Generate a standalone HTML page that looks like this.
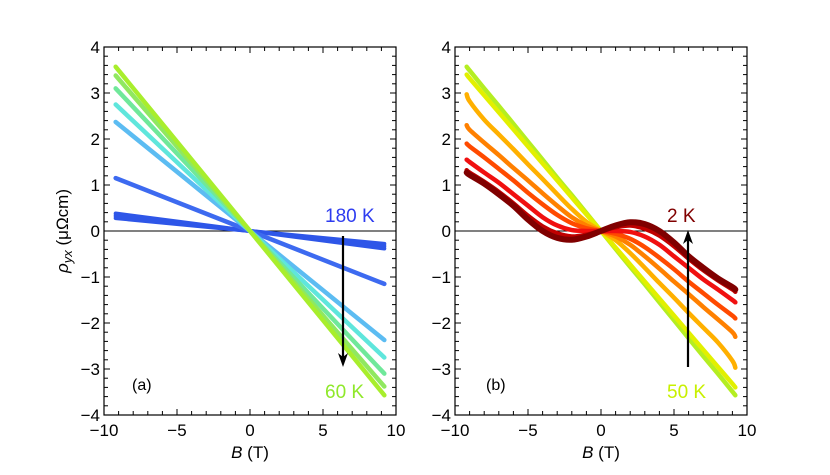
<!DOCTYPE html>
<html><head><meta charset="utf-8"><style>
body{margin:0;background:#fff;}
svg{display:block;font-family:"Liberation Sans",sans-serif;}
</style></head><body>
<svg id="chart" width="830" height="475"></svg>
<script>
// Panel (a): linear curves, value of rho_yx at B = +9.2 T (odd in B)
const aLabels = ["180K-1","180K-2","180K-3","T4","T5","T6","T7","T8","60K"];
const aEndValues = [-0.28,-0.33,-0.38,-1.15,-2.37,-2.75,-3.1,-3.38,-3.57];
const aColors = ["#2e56e8","#2e56e8","#2e56e8","#3d6af0","#5cbcf2","#5fe6dc","#70e89a","#90e860","#a8ee2c"];
// Panel (b): positive-field values (odd symmetric)
const bField = [0,1,2,3,4,5,6,7,8,9,9.2];
const b50K = [0,-0.39,-0.78,-1.16,-1.55,-1.94,-2.33,-2.72,-3.1,-3.49,-3.57];
const b45K = [0,-0.36,-0.73,-1.1,-1.47,-1.84,-2.21,-2.58,-2.95,-3.32,-3.4];
const b30K = [0,-0.2,-0.48,-0.8,-1.13,-1.45,-1.78,-2.1,-2.42,-2.82,-2.97];
const b20K = [0,-0.12,-0.3,-0.55,-0.82,-1.1,-1.37,-1.65,-1.92,-2.2,-2.3];
const b15K = [0,-0.06,-0.17,-0.35,-0.58,-0.83,-1.1,-1.35,-1.6,-1.84,-1.9];
const b10K = [0,0.0,-0.02,-0.12,-0.3,-0.55,-0.8,-1.05,-1.27,-1.5,-1.55];
const b5K = [0,0.08,0.12,0.05,-0.1,-0.33,-0.6,-0.85,-1.07,-1.27,-1.32];
const b2K = [0,0.12,0.19,0.15,0.0,-0.25,-0.55,-0.8,-1.03,-1.22,-1.27];
const bSeries = [b50K,b45K,b30K,b20K,b15K,b10K,b5K,b2K];
const bColors = ["#b4ee22","#e2f000","#ffb000","#ff8000","#ff4a00","#f01010","#c00000","#800000"];
const bNames = ["50K","45K","30K","20K","15K","10K","5K","2K"];
const xTicks = [-10,-5,0,5,10];
const yTicks = [-4,-3,-2,-1,0,1,2,3,4];

const NS="http://www.w3.org/2000/svg";
const svg=document.getElementById('chart');
function mk(tag,attrs,parent){const e=document.createElementNS(NS,tag);for(const k in attrs)e.setAttribute(k,attrs[k]);(parent||svg).appendChild(e);return e;}
const Y0=47,Y1=415;
function ys(v){return Y1-(v+4)/8*(Y1-Y0);}

function panel(left,right,id){
  const xs=v=>left+(v+10)/20*(right-left);
  const g=mk('g',{});
  
  
  const z=mk('line',{x1:left,x2:right,y1:ys(0),y2:ys(0),stroke:'#000','stroke-width':1},g);
  
  
  for(let v=-10;v<=10;v++){const x=xs(v);const L=v%5===0?6:4;
    mk('line',{x1:x,x2:x,y1:Y1,y2:Y1-L,stroke:'#000','stroke-width':1},g);
    mk('line',{x1:x,x2:x,y1:Y0,y2:Y0+L,stroke:'#000','stroke-width':1},g);}
  for(let i=-20;i<=20;i++){const v=i/5,y=ys(v);const L=i%5===0?6:4;
    mk('line',{x1:left,x2:left+L,y1:y,y2:y,stroke:'#000','stroke-width':1},g);
    mk('line',{x1:right,x2:right-L,y1:y,y2:y,stroke:'#000','stroke-width':1},g);}
  xTicks.forEach(v=>{const t=mk('text',{x:xs(v),y:Y1+21,'text-anchor':'middle','font-size':17},g);t.textContent=(v<0?'\u2212':'')+Math.abs(v);
    
    });
  yTicks.forEach(v=>{const t=mk('text',{x:left-4,y:ys(v)+6,'text-anchor':'end','font-size':17},g);t.textContent=(v<0?'\u2212':'')+Math.abs(v);
    
    });
  const xt=mk('text',{x:(left+right)/2,y:Y1+43,'text-anchor':'middle','font-size':17},g);
  xt.innerHTML='<tspan font-style="italic">B</tspan> (T)';
  
  
  return {g,xs};
}
function smoothPath(p){
  let d='M'+p[0][0]+','+p[0][1];
  for(let i=0;i<p.length-1;i++){
    const p0=p[Math.max(0,i-1)],p1=p[i],p2=p[i+1],p3=p[Math.min(p.length-1,i+2)];
    const c1x=p1[0]+(p2[0]-p0[0])/6,c1y=p1[1]+(p2[1]-p0[1])/6;
    const c2x=p2[0]-(p3[0]-p1[0])/6,c2y=p2[1]-(p3[1]-p1[1])/6;
    d+=' C'+c1x+','+c1y+' '+c2x+','+c2y+' '+p2[0]+','+p2[1];
  }
  return d;
}

const A=panel(104,396,'a');
aEndValues.forEach((v,i)=>{
  const l=mk('line',{x1:A.xs(-9.2),y1:ys(-v),x2:A.xs(9.2),y2:ys(v),stroke:aColors[i],'stroke-width':i<3?4:4.5,'stroke-linecap':'round'},A.g);
  
  
});
const B=panel(455,747,'b');
bSeries.forEach((arr,i)=>{
  const pts=[];
  for(let k=bField.length-1;k>0;k--)pts.push([B.xs(-bField[k]),ys(-arr[k])]);
  for(let k=0;k<bField.length;k++)pts.push([B.xs(bField[k]),ys(arr[k])]);
  const p=mk('path',{d:smoothPath(pts),fill:'none',stroke:bColors[i],'stroke-width':i===7?6:4.5,'stroke-linecap':'round','stroke-linejoin':'round'},B.g);
  
  
});
[[104,396],[455,747]].forEach(([l,r])=>{
  const f=mk('rect',{x:l,y:Y0,width:r-l,height:Y1-Y0,fill:'none',stroke:'#000','stroke-width':1.2});
  
  
});
function txt(x,y,s,color,name,size){const t=mk('text',{x:x,y:y,'font-size':size||19,fill:color});t.textContent=s;
  
  return t;}
txt(325,222,'180 K','#2e3cf0','label-180k');
txt(325,398,'60 K','#8fe82a','label-60k');
txt(132,390,'(a)','#000','panel-a-label',16);
txt(667,222,'2 K','#800000','label-2k');
txt(667,398,'50 K','#c8f000','label-50k');
txt(486,390,'(b)','#000','panel-b-label',16);
function arrow(x,y1,y2,name){
  const g=mk('g',{});
  
  
  const d=y2>y1?1:-1;
  mk('line',{x1:x,x2:x,y1:y1,y2:y2-d*10,stroke:'#000','stroke-width':2.2},g);
  mk('polygon',{points:`${x},${y2} ${x-5},${y2-d*14} ${x},${y2-d*10} ${x+5},${y2-d*14}`,fill:'#000'},g);
}
arrow(343,236,367,'arrow-a');
arrow(688,367,230,'arrow-b');
const yt=mk('text',{x:0,y:0,'font-size':17,'text-anchor':'middle',transform:'translate(68,231) rotate(-90)'});
yt.innerHTML='<tspan font-style="italic">ρ</tspan><tspan font-style="italic" font-size="13" dy="4">yx</tspan><tspan dy="-4"> (μΩcm)</tspan>';


</script>
</body></html>
